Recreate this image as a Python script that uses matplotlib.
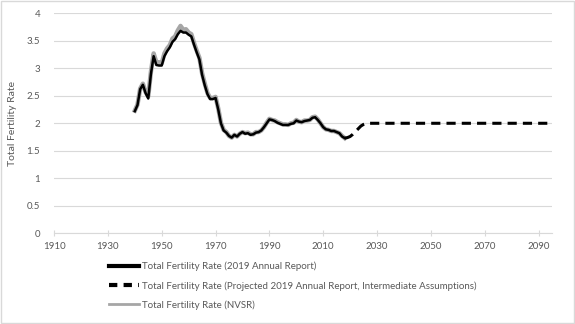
import matplotlib.pyplot as plt
from matplotlib.lines import Line2D
from matplotlib.patches import Rectangle

# NVSR total fertility rate, 1940-2018
nvsr_years = list(range(1940, 2019))
nvsr_tfr = [2.23, 2.34, 2.63, 2.72, 2.57, 2.49, 2.94, 3.27, 3.11, 3.11,
            3.09, 3.27, 3.36, 3.42, 3.54, 3.58, 3.69, 3.77, 3.70, 3.71,
            3.65, 3.62, 3.46, 3.32, 3.19, 2.91, 2.72, 2.55, 2.46, 2.46,
            2.48, 2.27, 2.01, 1.88, 1.84, 1.77, 1.74, 1.79, 1.76, 1.81,
            1.84, 1.82, 1.83, 1.80, 1.80, 1.84, 1.84, 1.87, 1.93, 2.01,
            2.08, 2.06, 2.05, 2.02, 2.00, 1.98, 1.98, 1.97, 2.00, 2.01,
            2.06, 2.03, 2.02, 2.05, 2.05, 2.06, 2.11, 2.12, 2.07, 2.00,
            1.93, 1.89, 1.88, 1.86, 1.86, 1.84, 1.82, 1.77, 1.73]

# 2019 Annual Report historical values
ar_years = list(range(1940, 2019))
ar_tfr = [2.22, 2.33, 2.62, 2.70, 2.55, 2.45, 2.90, 3.22, 3.06, 3.05,
          3.05, 3.22, 3.31, 3.38, 3.48, 3.53, 3.62, 3.68, 3.65, 3.65,
          3.61, 3.58, 3.43, 3.29, 3.16, 2.88, 2.69, 2.53, 2.44, 2.44,
          2.46, 2.25, 2.00, 1.87, 1.83, 1.77, 1.74, 1.79, 1.76, 1.81,
          1.84, 1.81, 1.82, 1.79, 1.80, 1.83, 1.84, 1.87, 1.93, 2.00,
          2.07, 2.06, 2.04, 2.01, 1.99, 1.97, 1.97, 1.97, 1.99, 2.00,
          2.05, 2.03, 2.02, 2.04, 2.05, 2.06, 2.10, 2.11, 2.06, 2.00,
          1.93, 1.89, 1.88, 1.86, 1.86, 1.84, 1.82, 1.76, 1.73]

# projected, intermediate assumptions
proj_years = [2018, 2019, 2020, 2021, 2022, 2023, 2024, 2025, 2026, 2095]
proj_tfr = [1.73, 1.74, 1.76, 1.80, 1.85, 1.90, 1.95, 1.98, 2.00, 2.00]

x_ticks = list(range(1910, 2100, 20))
y_ticks = [0, 0.5, 1, 1.5, 2, 2.5, 3, 3.5, 4]

labels = ['Total Fertility Rate (2019 Annual Report)',
          'Total Fertility Rate (Projected 2019 Annual Report, Intermediate Assumptions)',
          'Total Fertility Rate (NVSR)']

txt = '#595959'
grid = '#D9D9D9'
plt.rcParams['font.family'] = ['Lato', 'DejaVu Sans']

fig = plt.figure(figsize=(5.75, 3.24), dpi=100)
ax = fig.add_axes([0.094, 0.28, 0.866, 0.679])

ax.plot(nvsr_years, nvsr_tfr, color='#A6A6A6', lw=3.2, zorder=2, solid_joinstyle='round')
ax.plot(ar_years, ar_tfr, color='black', lw=1.8, zorder=3, solid_joinstyle='round')
ax.plot(proj_years, proj_tfr, color='black', lw=2.2, ls=(0, (3, 2)), zorder=3)

ax.set_xlim(1910, 2095)
ax.set_ylim(0, 4)
ax.set_xticks(x_ticks)
ax.set_yticks(y_ticks)
ax.set_yticklabels(['0', '0.5', '1', '1.5', '2', '2.5', '3', '3.5', '4'])
ax.yaxis.grid(True, color=grid, lw=0.8)
ax.set_axisbelow(True)
for s in ['top', 'right', 'left']:
    ax.spines[s].set_visible(False)
ax.spines['bottom'].set_color(grid)
ax.tick_params(axis='y', length=0, labelsize=7, labelcolor=txt, pad=10)
ax.tick_params(axis='x', direction='inout', length=4, color=grid, labelsize=7, labelcolor=txt, pad=4)
ax.set_ylabel('Total Fertility Rate', fontsize=7.5, color=txt, labelpad=7)

handles = [Line2D([], [], color='black', lw=3.0),
           Line2D([], [], color='black', lw=3.0, ls=(0, (2, 1.5))),
           Line2D([], [], color='#A6A6A6', lw=2.0)]
fig.legend(handles, labels, loc='upper left', bbox_to_anchor=(0.19, 0.192),
           frameon=False, fontsize=7, labelcolor=txt, handlelength=3.1,
           handletextpad=0.3, labelspacing=1.0, borderpad=0, borderaxespad=0)

fig.patches.append(Rectangle((0.001, 0.002), 0.997, 0.995, transform=fig.transFigure,
                             fill=False, edgecolor=grid, lw=1))

fig.savefig('out.png', dpi=100)
